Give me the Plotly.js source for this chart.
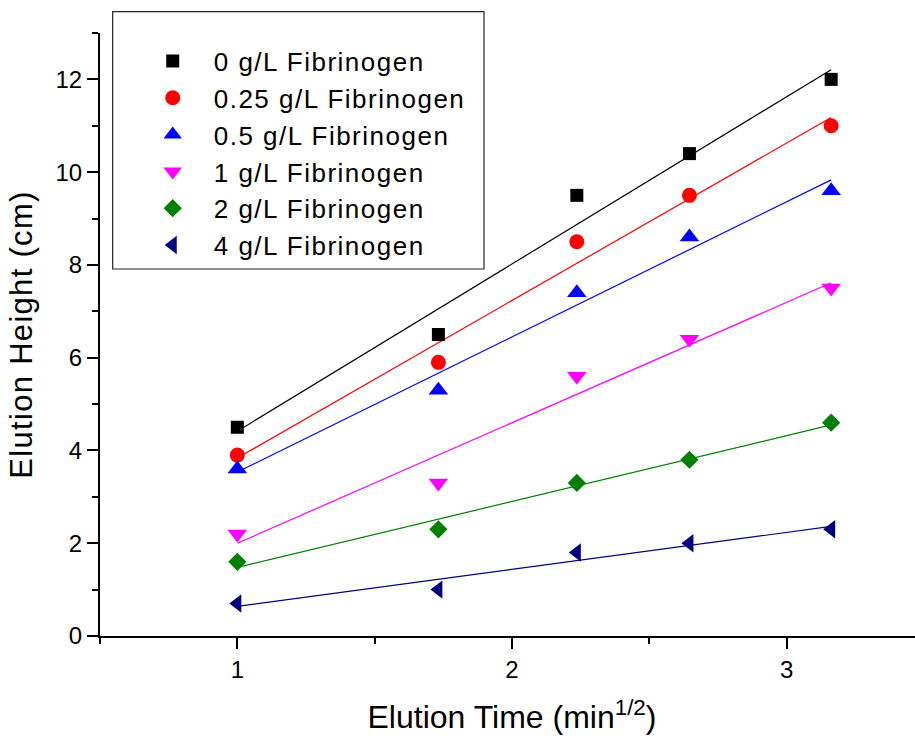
<!DOCTYPE html>
<html>
<head>
<meta charset="utf-8">
<script src="https://cdn.plot.ly/plotly-3.0.1.min.js"></script>
<style>
html,body{margin:0;padding:0;overflow:hidden;background:#fff;}
#chart{width:935px;height:738px;}
#chart .legendtext{letter-spacing:1.5px;}
#chart .legend .scrollbox{clip-path:none !important;}
#chart .ytitle{letter-spacing:1.3px;}
</style>
</head>
<body>
<div id="chart"></div>
<script>
// ---- data ----
const elutionTime = [1, 1.732, 2.236, 2.646, 3.162];   // min^1/2
const seriesNames = ['0 g/L Fibrinogen', '0.25 g/L Fibrinogen', '0.5 g/L Fibrinogen',
                     '1 g/L Fibrinogen', '2 g/L Fibrinogen', '4 g/L Fibrinogen'];
const height0   = [4.5, 6.5, 9.5, 10.4, 12.0];
const height025 = [3.9, 5.9, 8.5, 9.5, 11.0];
const height05  = [3.6, 5.3, 7.4, 8.6, 9.6];
const height1   = [2.2, 3.3, 5.6, 6.4, 7.5];
const height2   = [1.6, 2.3, 3.3, 3.8, 4.6];
const height4   = [0.7, 1.0, 1.8, 2.0, 2.3];
const xTickVals = [1, 2, 3];
const yTickVals = [0, 2, 4, 6, 8, 10, 12];

// ---- styles ----
const colors  = ['#000000', '#ff0000', '#0000ff', '#ff00ff', '#008000', '#000080'];
const symbols = ['square', 'circle', 'triangle-up', 'triangle-down', 'diamond', 'triangle-left'];
const sizes   = [13, 15, 17, 17, 14, 16];

const allHeights = [height0, height025, height05, height1, height2, height4];

// least-squares linear fit (as drawn in the original)
function linFit(x, y) {
  const n = x.length;
  const mx = x.reduce((a, b) => a + b, 0) / n;
  const my = y.reduce((a, b) => a + b, 0) / n;
  let sxy = 0, sxx = 0;
  for (let i = 0; i < n; i++) { sxy += (x[i] - mx) * (y[i] - my); sxx += (x[i] - mx) ** 2; }
  const b = sxy / sxx;
  return { slope: b, intercept: my - b * mx };
}

const traces = [];
allHeights.forEach((h, i) => {
  const f = linFit(elutionTime, h);
  const xs = [elutionTime[0], elutionTime[elutionTime.length - 1]];
  traces.push({
    x: xs, y: xs.map(v => f.intercept + f.slope * v),
    mode: 'lines', line: { color: colors[i], width: 1.2 },
    showlegend: false, hoverinfo: 'skip'
  });
});
allHeights.forEach((h, i) => {
  traces.push({
    x: elutionTime, y: h, name: seriesNames[i],
    mode: 'markers',
    marker: { symbol: symbols[i], size: sizes[i], color: colors[i], line: { width: 0 } }
  });
});

const FONT = 'Liberation Sans, Arial, sans-serif';
const layout = {
  width: 935, height: 738,
  margin: { l: 100, r: 11, t: 33, b: 102 },
  paper_bgcolor: '#ffffff', plot_bgcolor: '#ffffff',
  font: { family: FONT, color: '#000' },
  showlegend: true,
  xaxis: {
    range: [0.5, 3.5], tickvals: xTickVals, ticktext: xTickVals.map(String),
    ticks: 'outside', ticklen: 11, tickwidth: 2, tickcolor: '#000',
    showline: true, linewidth: 2, linecolor: '#000',
    showgrid: false, zeroline: false,
    tickfont: { size: 24, family: FONT },
    minor: { tick0: 0.5, dtick: 0.5, ticks: 'outside', ticklen: 6, tickwidth: 2, tickcolor: '#000', showgrid: false },
    title: { text: 'Elution Time (min<sup>1/2</sup>)', font: { size: 32, family: FONT }, standoff: 24 }
  },
  yaxis: {
    range: [0, 13], tickvals: yTickVals, ticktext: yTickVals.map(String),
    ticks: 'outside', ticklen: 11, tickwidth: 2, tickcolor: '#000',
    showline: true, linewidth: 2, linecolor: '#000',
    showgrid: false, zeroline: false,
    tickfont: { size: 24, family: FONT },
    minor: { tick0: 0, dtick: 1, ticks: 'outside', ticklen: 6, tickwidth: 2, tickcolor: '#000', showgrid: false },
    title: { text: 'Elution Height (cm)', font: { size: 31, family: FONT }, standoff: 14 }
  },
  legend: {
    x: 0.0385, y: 0.9924, xanchor: 'left', yanchor: 'top',
    bgcolor: 'rgba(0,0,0,0)', borderwidth: 0,
    font: { size: 26, family: FONT, color: '#000' },
    itemwidth: 72, tracegroupgap: 0
  },
  shapes: [{
    type: 'rect', xref: 'paper', yref: 'paper',
    x0: 0.0154, x1: 0.466, y0: 0.6086, y1: 1.0353,
    line: { color: '#222', width: 1.2 }, fillcolor: 'rgba(0,0,0,0)', layer: 'below'
  }]
};

Plotly.newPlot('chart', traces, layout, { displayModeBar: false, staticPlot: true });
</script>
</body>
</html>
